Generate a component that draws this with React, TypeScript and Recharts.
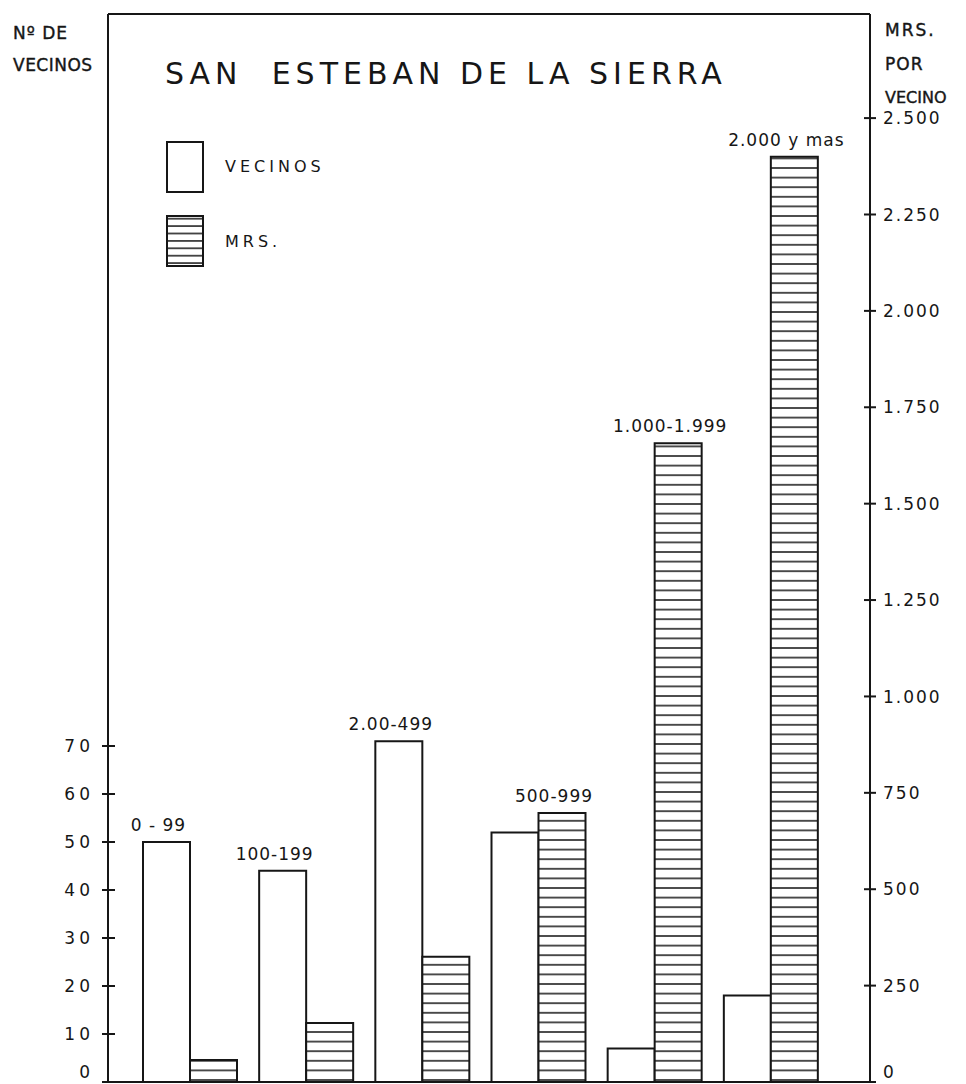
import React from "react";
import { BarChart, Bar, XAxis, YAxis, ReferenceLine, LabelList, Legend } from "recharts";

// San Esteban de la Sierra: vecinos per income bracket (left axis) and
// maravedís per vecino (right axis)
const RANGOS = ["0 - 99", "100-199", "2.00-499", "500-999", "1.000-1.999", "2.000 y mas"];
const VECINOS = [50, 44, 71, 52, 7, 18];
const MRS = [57, 153, 325, 698, 1657, 2400];
const LEFT_TICKS = [0, 10, 20, 30, 40, 50, 60, 70];
const RIGHT_TICKS = [0, 250, 500, 750, 1000, 1250, 1500, 1750, 2000, 2250, 2500];

// axis tops sit above the last tick (frame goes up to the top border)
const LEFT_MAX = 222.5;
const RIGHT_MAX = 2770;

const INK = "#161616";
const FONT = "'DejaVu Sans', sans-serif";

const data = RANGOS.map((r, i) => ({ rango: r, vecinos: VECINOS[i], mrs: MRS[i] }));

const fmtMrs = (v: number) =>
  v >= 1000 ? `${Math.floor(v / 1000)}.${String(v % 1000).padStart(3, "0")}` : String(v);

// the "0" labels sit on the page's bottom edge; lift them just enough to stay whole
const lift = (v: number) => (v === 0 ? -10 : 0);

function LeftTick({ x, y, payload }: any) {
  return (
    <g>
      <line x1={x - 6} x2={x + 7} y1={y} y2={y} stroke={INK} strokeWidth={2} />
      <text x={x - 14} y={y + lift(payload.value)} dy="0.36em" textAnchor="end" fontSize={17}
            letterSpacing={4} fill={INK} fontFamily={FONT}>{payload.value}</text>
    </g>
  );
}

function RightTick({ x, y, payload }: any) {
  return (
    <g>
      <line x1={x - 6} x2={x + 6} y1={y} y2={y} stroke={INK} strokeWidth={2} />
      <text x={x + 13} y={y + lift(payload.value)} dy="0.36em" textAnchor="start" fontSize={17}
            letterSpacing={2} fill={INK} fontFamily={FONT}>{fmtMrs(payload.value)}</text>
    </g>
  );
}

// range label goes above whichever bar of the pair is taller on screen
const rangeLabel = (serie: "vecinos" | "mrs") => (props: any) => {
  const { x, y, width, index, value } = props;
  const mrsTaller = MRS[index] / RIGHT_MAX > VECINOS[index] / LEFT_MAX;
  if ((serie === "mrs") !== mrsTaller) return null;
  return (
    <text x={x + width / 2 - 8} y={y - 11} textAnchor="middle" fontSize={17}
          letterSpacing={1} fill={INK} fontFamily={FONT}>{value}</text>
  );
};

function LegendBox() {
  const txt = { position: "absolute" as const, left: 59, fontSize: 16, letterSpacing: 4, color: INK, fontFamily: FONT };
  return (
    <div style={{ position: "relative", width: 200, height: 130 }}>
      <div style={{ position: "absolute", left: 0, top: 0, width: 34, height: 48, border: `2px solid ${INK}`, background: "#fff" }} />
      <div style={{ ...txt, top: 16 }}>VECINOS</div>
      <svg style={{ position: "absolute", left: 0, top: 74 }} width={38} height={52}>
        <rect x={1} y={1} width={36} height={50} fill="url(#hatchLegend)" stroke={INK} strokeWidth={2} />
      </svg>
      <div style={{ ...txt, top: 91 }}>MRS.</div>
    </div>
  );
}

export default function App() {
  return (
    <div style={{ position: "absolute", left: 0, top: 0, width: 966, height: 1084, background: "#fff" }}>
      <svg width={0} height={0} style={{ position: "absolute" }}>
        <defs>
          <pattern id="hatchLegend" patternUnits="userSpaceOnUse" width={12} height={7.4}>
            <rect width={12} height={7.4} fill="#fff" />
            <line x1={0} x2={12} y1={3.7} y2={3.7} stroke={INK} strokeWidth={1.5} />
          </pattern>
        </defs>
      </svg>
      <BarChart width={966} height={1084} data={data} barGap={0} barCategoryGap={11}
                margin={{ top: 14, right: 0, left: 0, bottom: 1 }}>
        <defs>
          <pattern id="hatch" patternUnits="userSpaceOnUse" width={12} height={9.6}>
            <rect width={12} height={9.6} fill="#fff" />
            <line x1={0} x2={12} y1={4.8} y2={4.8} stroke={INK} strokeWidth={1.5} />
          </pattern>
        </defs>
        <XAxis dataKey="rango" tick={false} tickLine={false} height={1}
               axisLine={{ stroke: INK, strokeWidth: 2 }} padding={{ left: 24, right: 41 }} />
        <YAxis yAxisId="left" orientation="left" width={108} domain={[0, LEFT_MAX]} interval={0}
               ticks={LEFT_TICKS} tick={(p: any) => <LeftTick {...p} />} tickLine={false}
               tickSize={0} tickMargin={0} axisLine={{ stroke: INK, strokeWidth: 2 }} allowDataOverflow />
        <YAxis yAxisId="right" orientation="right" width={96} domain={[0, RIGHT_MAX]} interval={0}
               ticks={RIGHT_TICKS} tick={(p: any) => <RightTick {...p} />} tickLine={false}
               tickSize={0} tickMargin={0} axisLine={{ stroke: INK, strokeWidth: 2 }} allowDataOverflow />
        <ReferenceLine yAxisId="left" y={LEFT_MAX} stroke={INK} strokeWidth={2} />
        <Legend layout="vertical" align="center" verticalAlign="middle"
                wrapperStyle={{ top: 141, left: 166, width: 200 }} content={() => <LegendBox />} />
        <Bar yAxisId="left" dataKey="vecinos" name="VECINOS" fill="#fff" stroke={INK}
             strokeWidth={2} isAnimationActive={false}>
          <LabelList dataKey="rango" content={rangeLabel("vecinos")} />
        </Bar>
        <Bar yAxisId="right" dataKey="mrs" name="MRS." fill="url(#hatch)" stroke={INK}
             strokeWidth={2} isAnimationActive={false}>
          <LabelList dataKey="rango" content={rangeLabel("mrs")} />
        </Bar>
      </BarChart>
      <svg width={966} height={1084} style={{ position: "absolute", left: 0, top: 0, pointerEvents: "none" }}
           fontFamily={FONT} fill={INK}>
        <text x={165} y={84} fontSize={30} letterSpacing={5} style={{ whiteSpace: "pre" }}>SAN  ESTEBAN DE LA SIERRA</text>
        <g stroke={INK} strokeWidth={0.4}>
          <text x={13} y={39} fontSize={17} letterSpacing={1}>Nº DE</text>
          <text x={13} y={71} fontSize={17} letterSpacing={0.5}>VECINOS</text>
          <text x={885} y={36} fontSize={17} letterSpacing={2}>MRS.</text>
          <text x={885} y={70} fontSize={17} letterSpacing={1}>POR</text>
          <text x={885} y={103} fontSize={16} letterSpacing={0}>VECINO</text>
        </g>
      </svg>
    </div>
  );
}
